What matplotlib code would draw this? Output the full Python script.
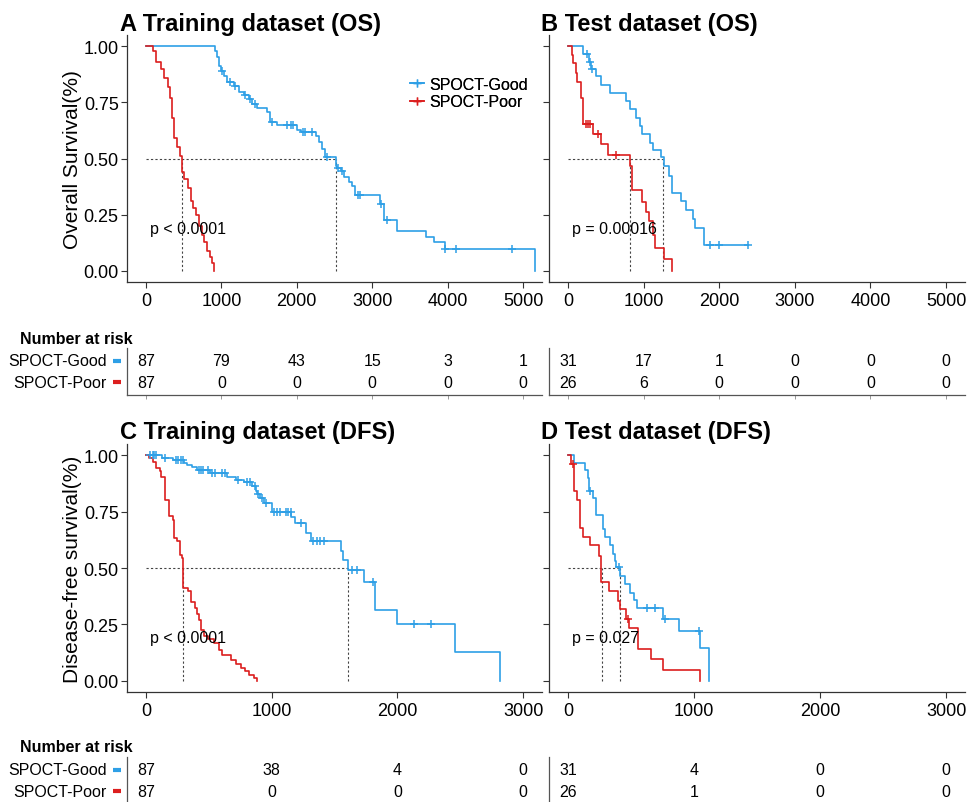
import numpy as np
import matplotlib
matplotlib.use('Agg')
import matplotlib.pyplot as plt

plt.rcParams['font.family'] = ['Liberation Sans', 'DejaVu Sans']

W, H = 969, 803
BLUE = '#2E9FE6'
RED = '#DC1E1E'
GREY = '#444444'

# ---------------- data: panel A (training OS) ----------------
a_good_t = [917, 948, 970, 992, 1036, 1080, 1169, 1235, 1301, 1367, 1411, 1477, 1610, 1645,
            1742, 2007, 2051, 2249, 2293, 2337, 2373, 2514, 2536, 2580, 2624, 2690, 2734,
            2778, 3109, 3153, 3330, 3718, 3815, 3969, 5151]
a_good_s = [0.979, 0.95, 0.913, 0.89, 0.868, 0.839, 0.821, 0.794, 0.784, 0.764, 0.742, 0.727,
            0.705, 0.661, 0.649, 0.628, 0.619, 0.601, 0.572, 0.542, 0.508, 0.468, 0.456, 0.446,
            0.416, 0.394, 0.379, 0.338, 0.298, 0.224, 0.179, 0.15, 0.127, 0.098, 0.0]
a_good_cens = [1014, 1111, 1182, 1310, 1380, 1442, 1667, 1874, 1918, 1954, 2086, 2108, 2205,
               2403, 2545, 2602, 2814, 2836, 3120, 3197, 3969, 4115, 4851]
a_poor_t = [88, 132, 198, 243, 287, 322, 344, 375, 419, 454, 476, 507, 564, 595, 630, 661,
            705, 740, 771, 815, 851, 882, 904]
a_poor_s = [0.977, 0.93, 0.90, 0.86, 0.82, 0.77, 0.68, 0.59, 0.55, 0.51, 0.44, 0.41, 0.37,
            0.31, 0.28, 0.25, 0.20, 0.16, 0.13, 0.09, 0.06, 0.035, 0.0]
a_poor_cens = []
a_medians = [485, 2514]

# ---------------- data: panel B (test OS) ----------------
b_good_t = [202, 277, 299, 378, 444, 563, 766, 827, 898, 950, 986, 1091, 1126, 1236, 1267,
            1338, 1377, 1500, 1558, 1654, 1676, 1795]
b_good_s = [0.967, 0.93, 0.90, 0.867, 0.826, 0.793, 0.756, 0.72, 0.68, 0.645, 0.61, 0.57,
            0.54, 0.505, 0.465, 0.424, 0.347, 0.309, 0.269, 0.229, 0.19, 0.114]
b_good_cens = [246, 290, 321, 1883, 1993, 2376]
b_poor_t = [48, 70, 106, 123, 167, 194, 202, 326, 436, 532, 818, 849, 986, 1030, 1074, 1126,
            1148, 1267, 1382]
b_poor_s = [0.963, 0.926, 0.88, 0.84, 0.77, 0.72, 0.653, 0.609, 0.564, 0.515, 0.468, 0.36,
            0.306, 0.261, 0.22, 0.158, 0.10, 0.052, 0.0]
b_poor_cens = [238, 260, 290, 392, 634]
b_medians = [818, 1258]

# ---------------- data: panel C (training DFS) ----------------
c_good_t = [132, 212, 304, 331, 365, 405, 511, 643, 714, 781, 847, 873, 886, 908, 939, 1000,
            1156, 1185, 1270, 1310, 1548, 1569, 1609, 1733, 1826, 1998, 2461, 2818]
c_good_s = [0.988, 0.978, 0.966, 0.959, 0.95, 0.936, 0.92, 0.904, 0.89, 0.88, 0.862, 0.84,
            0.828, 0.81, 0.79, 0.75, 0.726, 0.70, 0.655, 0.618, 0.574, 0.534, 0.493, 0.44,
            0.315, 0.253, 0.126, 0.0]
c_good_cens = [34, 53, 66, 79, 153, 238, 257, 278, 296, 423, 437, 458, 495, 529, 548, 609, 627,
               733, 807, 828, 865, 894, 926, 958, 1019, 1045, 1066, 1111, 1132, 1151, 1230,
               1331, 1363, 1381, 1416, 1641, 1680, 1807, 2130, 2268]
c_poor_t = [26, 53, 79, 114, 119, 153, 185, 212, 220, 251, 273, 291, 299, 339, 357, 389, 405,
            423, 437, 463, 495, 542, 582, 609, 675, 714, 754, 786, 820, 860, 886]
c_poor_s = [0.988, 0.969, 0.944, 0.929, 0.904, 0.803, 0.732, 0.714, 0.633, 0.618, 0.559,
            0.544, 0.411, 0.40, 0.349, 0.322, 0.297, 0.271, 0.226, 0.197, 0.186, 0.167, 0.135,
            0.115, 0.093, 0.075, 0.056, 0.041, 0.027, 0.012, 0.0]
c_poor_cens = []
c_medians = [299, 1609]

# ---------------- data: panel D (test DFS) ----------------
d_good_t = [50, 138, 156, 169, 196, 222, 275, 296, 331, 355, 376, 384, 415, 455, 495, 521, 548,
            751, 878, 1045, 1117]
d_good_s = [0.966, 0.934, 0.90, 0.84, 0.81, 0.737, 0.674, 0.638, 0.60, 0.56, 0.53, 0.504,
            0.464, 0.427, 0.387, 0.357, 0.323, 0.272, 0.22, 0.146, 0.0]
d_good_cens = [177, 402, 627, 688, 767, 1037]
d_poor_t = [24, 45, 71, 98, 119, 172, 243, 265, 323, 394, 410, 460, 487, 556, 662, 751, 1050]
d_poor_s = [0.963, 0.84, 0.80, 0.678, 0.638, 0.60, 0.555, 0.44, 0.397, 0.353, 0.319, 0.276,
            0.232, 0.139, 0.095, 0.047, 0.0]
d_poor_cens = [40, 474]
d_medians = [272, 415]

# ---------------- risk tables ----------------
os_breaks = [0, 1000, 2000, 3000, 4000, 5000]
dfs_breaks = [0, 1000, 2000, 3000]
a_risk_good = [87, 79, 43, 15, 3, 1]
a_risk_poor = [87, 0, 0, 0, 0, 0]
b_risk_good = [31, 17, 1, 0, 0, 0]
b_risk_poor = [26, 6, 0, 0, 0, 0]
c_risk_good = [87, 38, 4, 0]
c_risk_poor = [87, 0, 0, 0]
d_risk_good = [31, 4, 0, 0]
d_risk_poor = [26, 1, 0, 0]

titles = ['A Training dataset (OS)', 'B Test dataset (OS)',
          'C Training dataset (DFS)', 'D Test dataset (DFS)']
pvals = ['p < 0.0001', 'p = 0.00016', 'p < 0.0001', 'p = 0.027']
group_labels = ['SPOCT-Good', 'SPOCT-Poor']
yticks = [0.0, 0.25, 0.50, 0.75, 1.00]
ytick_labels = ['0.00', '0.25', '0.50', '0.75', '1.00']

fig = plt.figure(figsize=(W / 100, H / 100), dpi=100)


def ax_px(l, t, r, b):
    return fig.add_axes([l / W, 1 - b / H, (r - l) / W, (b - t) / H])


def ftext(x, y, s, **kw):
    fig.text(x / W, 1 - y / H, s, **kw)


def surv_at(t_list, s_list, t):
    t_arr = np.asarray(t_list)
    idx = np.searchsorted(t_arr, t, side='right') - 1
    return 1.0 if idx < 0 else s_list[idx]


def draw_curve(ax, t_list, s_list, cens, color):
    end = max([t_list[-1]] + list(cens))
    xs = [0] + list(t_list) + [end]
    ys = [1.0] + list(s_list) + [s_list[-1]]
    ax.step(xs, ys, where='post', color=color, lw=1.2, zorder=3)
    if cens:
        cy = [surv_at(t_list, s_list, c) for c in cens]
        ax.plot(cens, cy, '+', color=color, ms=6, mew=1.1, zorder=4)


def style_axis(ax, show_ylabels):
    for sp in ['top', 'right']:
        ax.spines[sp].set_visible(False)
    for sp in ['left', 'bottom']:
        ax.spines[sp].set_color('#333333')
        ax.spines[sp].set_linewidth(0.9)
    ax.tick_params(axis='both', length=4, width=0.8, color='#333333', labelsize=13,
                   labelcolor='black')
    ax.tick_params(axis='y', pad=2)
    ax.set_ylim(-0.05, 1.05)
    ax.set_yticks(yticks)
    if show_ylabels:
        ax.set_yticklabels(ytick_labels)
    else:
        ax.set_yticklabels([])


panels = [
    (a_good_t, a_good_s, a_good_cens, a_poor_t, a_poor_s, a_poor_cens, a_medians, os_breaks,
     (127, 36, 542, 283), True),
    (b_good_t, b_good_s, b_good_cens, b_poor_t, b_poor_s, b_poor_cens, b_medians, os_breaks,
     (549, 36, 965, 283), False),
    (c_good_t, c_good_s, c_good_cens, c_poor_t, c_poor_s, c_poor_cens, c_medians, dfs_breaks,
     (127, 445, 542, 693), True),
    (d_good_t, d_good_s, d_good_cens, d_poor_t, d_poor_s, d_poor_cens, d_medians, dfs_breaks,
     (549, 445, 965, 693), False),
]

for i, (gt, gs, gc, pt, ps, pc, med, brk, box, left) in enumerate(panels):
    ax = ax_px(*box)
    xmax = brk[-1]
    ax.set_xlim(-0.05 * xmax, 1.05 * xmax)
    style_axis(ax, left)
    ax.set_xticks(brk)
    ax.set_xticklabels([str(b) for b in brk])
    # median lines
    ax.plot([0, max(med)], [0.5, 0.5], ls=(0, (2, 2)), color=GREY, lw=0.8, zorder=2)
    for m in med:
        ax.plot([m, m], [0, 0.5], ls=(0, (2, 2)), color=GREY, lw=0.8, zorder=2)
    draw_curve(ax, gt, gs, gc, BLUE)
    draw_curve(ax, pt, ps, pc, RED)
    ax.text(0.012 * xmax, 0.19, pvals[i], fontsize=11.5, va='center', ha='left')
    if left:
        h1, = ax.plot([], [], color=BLUE, marker='+', lw=1.2, ms=6)
        h2, = ax.plot([], [], color=RED, marker='+', lw=1.2, ms=6)
        ax.legend([h1, h2], group_labels, loc='upper left',
                  bbox_to_anchor=((410 - box[0]) / (box[2] - box[0]),
                                  (box[3] - 78) / (box[3] - box[1])),
                  frameon=False, fontsize=11.5, handlelength=0.9, handletextpad=0.3,
                  labelspacing=0.15, borderaxespad=0, borderpad=0)
    # titles
    ftext(box[0] - 7 if left else box[0] - 8, box[1] - 12, titles[i], fontsize=17,
          fontweight='bold', va='center', ha='left')

ftext(72, 160, 'Overall Survival(%)', rotation=90, fontsize=15, va='center', ha='center')
ftext(72, 569, 'Disease-free survival(%)', rotation=90, fontsize=15, va='center', ha='center')

# risk tables
tables = [
    (a_risk_good, a_risk_poor, os_breaks, (127, 349, 542, 396), True, 340),
    (b_risk_good, b_risk_poor, os_breaks, (549, 349, 965, 396), False, None),
    (c_risk_good, c_risk_poor, dfs_breaks, (127, 758, 542, 805), True, 748),
    (d_risk_good, d_risk_poor, dfs_breaks, (549, 758, 965, 805), False, None),
]
for rg, rp, brk, box, left, title_y in tables:
    ax = ax_px(*box)
    xmax = brk[-1]
    ax.set_xlim(-0.05 * xmax, 1.05 * xmax)
    ax.set_ylim(0.4, 2.6)
    for sp in ['top', 'right']:
        ax.spines[sp].set_visible(False)
    for sp in ['left', 'bottom']:
        ax.spines[sp].set_color('#555555')
        ax.spines[sp].set_linewidth(0.9)
    ax.set_xticks(brk)
    ax.set_xticklabels([])
    ax.set_yticks([])
    ax.tick_params(axis='x', length=3, width=0.6, color='#888888')
    for x, v in zip(brk, rg):
        ax.text(x, 2, str(v), ha='center', va='center', fontsize=11.5)
    for x, v in zip(brk, rp):
        ax.text(x, 1, str(v), ha='center', va='center', fontsize=11.5)
    if left:
        rows_y = [box[1] + (box[3] - box[1]) * (2.6 - 2) / 2.2,
                  box[1] + (box[3] - box[1]) * (2.6 - 1) / 2.2]
        for lab, yy, col in zip(group_labels, rows_y, [BLUE, RED]):
            ftext(107, yy, lab, fontsize=11.5, ha='right', va='center')
            fig.add_artist(plt.Line2D([113 / W, 121 / W], [1 - yy / H, 1 - yy / H],
                                      color=col, lw=3, solid_capstyle='butt'))
        ftext(20, title_y, 'Number at risk', fontsize=11.5, fontweight='bold', ha='left',
              va='center')

fig.savefig('out.png', dpi=100)
